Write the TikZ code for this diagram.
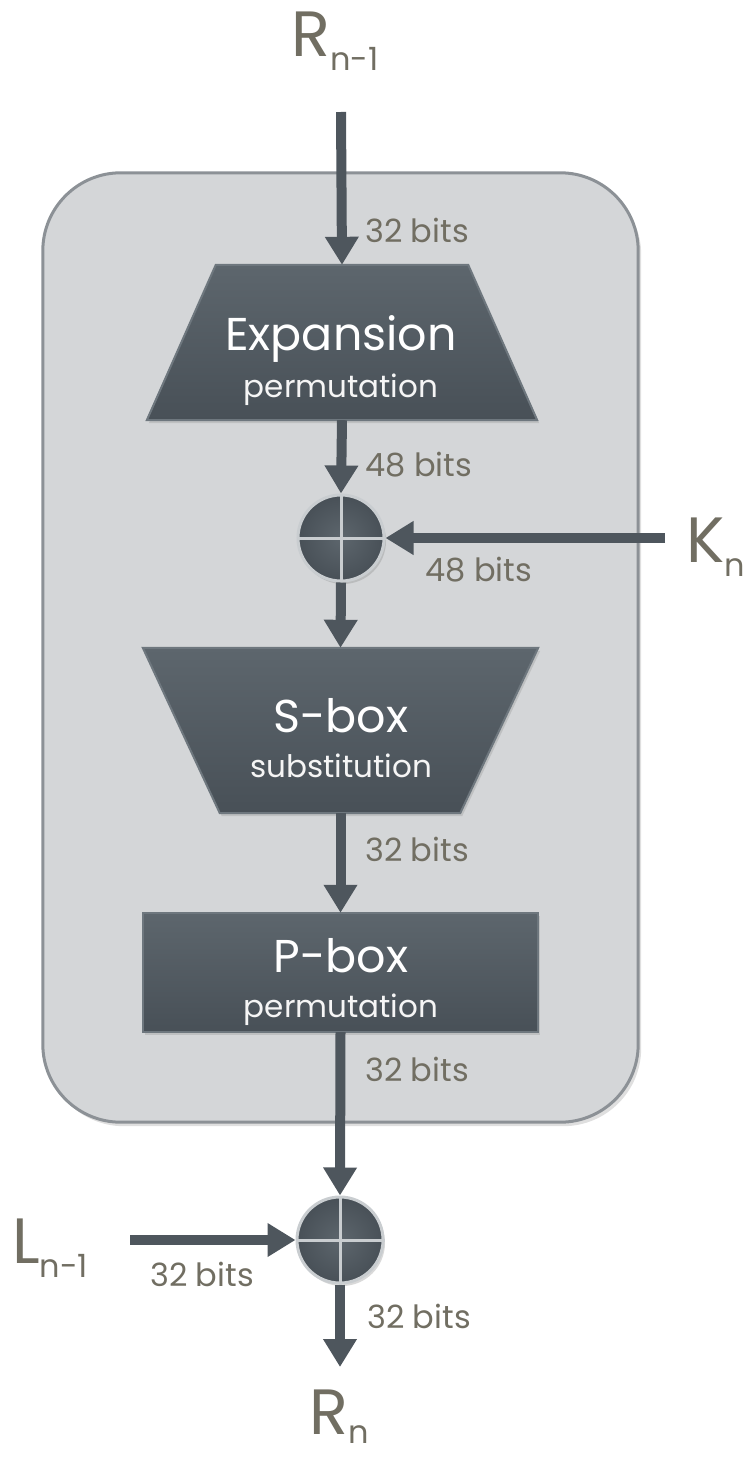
\documentclass[tikz,border=0pt]{standalone}
\usepackage{fontspec}
\setmainfont{Poppins}
\usetikzlibrary{arrows.meta,shadows}
\definecolor{ink}{HTML}{4E565D}
\definecolor{panel}{HTML}{D4D6D8}
\definecolor{paneledge}{HTML}{8C9196}
\definecolor{lbl}{HTML}{716E62}
\definecolor{boxtop}{HTML}{5D666D}
\definecolor{boxbot}{HTML}{485057}
\definecolor{ring}{HTML}{C9CDD0}
\definecolor{boxedge}{HTML}{6E777E}
\newcommand{\bigsub}[2]{\fontsize{64}{64}\selectfont #1\raisebox{-14pt}{\fontsize{32}{32}\selectfont #2}}
\begin{document}
\begin{tikzpicture}[x=1pt,y=-1pt,
  flow/.style={line width=10pt, draw=ink, -{Triangle[width=32pt,length=28pt]}},
  holder/.style={shape=rectangle, inner sep=0pt, draw=none},
  boxshade/.style={top color=boxtop, bottom color=boxbot, draw=boxedge, line width=2pt,
     drop shadow={opacity=0.25, shadow xshift=2pt, shadow yshift=-3pt}},
  title/.style={text=white, font=\fontsize{46}{46}\selectfont, anchor=base, inner sep=0pt},
  subtitle/.style={text=white!92!gray, font=\fontsize{31}{31}\selectfont, anchor=base, inner sep=0pt},
  bits/.style={text=lbl, font=\fontsize{32}{32}\selectfont, anchor=base west, inner sep=0pt},
  xorc/.style={circle, minimum size=86pt, inner sep=0pt, draw=ring, line width=3pt,
     inner color=boxtop, outer color=boxbot,
     drop shadow={opacity=0.3, shadow xshift=2pt, shadow yshift=-3pt}},
  bigl/.style={text=lbl, inner sep=0pt, anchor=base west}
]
\useasboundingbox (0,0) rectangle (751,1458);

% outer panel
\node[holder, minimum width=595pt, minimum height=949pt] (panel) at (340.5,647.5) {};
\draw[fill=panel, draw=paneledge, line width=3pt, rounded corners=78pt,
      drop shadow={opacity=0.25, shadow xshift=3pt, shadow yshift=-4pt}]
  (panel.north west) rectangle (panel.south east);

% Expansion trapezoid
\node[holder, minimum width=390pt, minimum height=155pt] (exp) at (342,342.5) {};
\shade[boxshade] ([xshift=69pt]exp.north west) -- ([xshift=-69pt]exp.north east)
   -- (exp.south east) -- (exp.south west) -- cycle;
\node[title] (expT) at (341,350) {Expansion};
\node[subtitle] (expS) at (341,397) {permutation};

% S-box trapezoid
\node[holder, minimum width=395pt, minimum height=165pt] (sbox) at (340.5,730.5) {};
\shade[boxshade] (sbox.north west) -- (sbox.north east)
   -- ([xshift=-78pt]sbox.south east) -- ([xshift=77pt]sbox.south west) -- cycle;
\node[title] (sboxT) at (341,732) {S-box};
\node[subtitle] (sboxS) at (341,777) {substitution};

% P-box rectangle
\node[holder, minimum width=395pt, minimum height=119pt] (pbox) at (340.5,972.5) {};
\shade[boxshade] (pbox.north west) rectangle (pbox.south east);
\node[title] (pboxT) at (341,972) {P-box};
\node[subtitle] (pboxS) at (341,1017) {permutation};

% XOR circles
\node[xorc] (x1) at (341,538) {};
\draw[ring, line width=3pt] (x1.north) -- (x1.south) (x1.west) -- (x1.east);
\node[xorc] (x2) at (340,1240) {};
\draw[ring, line width=3pt] (x2.north) -- (x2.south) (x2.west) -- (x2.east);

% outer labels
\node[bigl] (rin) at (291,57) {\bigsub{R}{n-1}};
\node[bigl] (kn) at (686,562) {\bigsub{K}{n}};
\node[bigl] (ln) at (12,1263) {\bigsub{L}{n-1}};
\node[bigl] (rout) at (309,1434) {\fontsize{64}{64}\selectfont R\raisebox{-9pt}{\fontsize{32}{32}\selectfont n}};

% connector ends
\coordinate (rinEnd) at (341,112);
\coordinate (knEnd) at (665,538);
\coordinate (lnEnd) at (130,1240);
\coordinate (routEnd) at (340,1367);

% arrows
\draw[flow] (rinEnd) -- (exp.north);
\draw[flow] (exp.south) -- (x1.north);
\draw[flow] (knEnd) -- (x1.east);
\draw[flow] (x1.south) -- (sbox.north);
\draw[flow] (sbox.south) -- (pbox.north);
\draw[flow] (pbox.south) -- (x2.north);
\draw[flow] (lnEnd) -- (x2.west);
\draw[flow] (x2.south) -- (routEnd);

% bit labels
\node[bits] (b1) at (365,242) {32 bits};
\node[bits] (b2) at (365,476) {48 bits};
\node[bits] (b3) at (425,581) {48 bits};
\node[bits] (b4) at (365,861) {32 bits};
\node[bits] (b5) at (365,1081) {32 bits};
\node[bits] (b6) at (150,1286) {32 bits};
\node[bits] (b7) at (367,1328) {32 bits};
\end{tikzpicture}
\end{document}
